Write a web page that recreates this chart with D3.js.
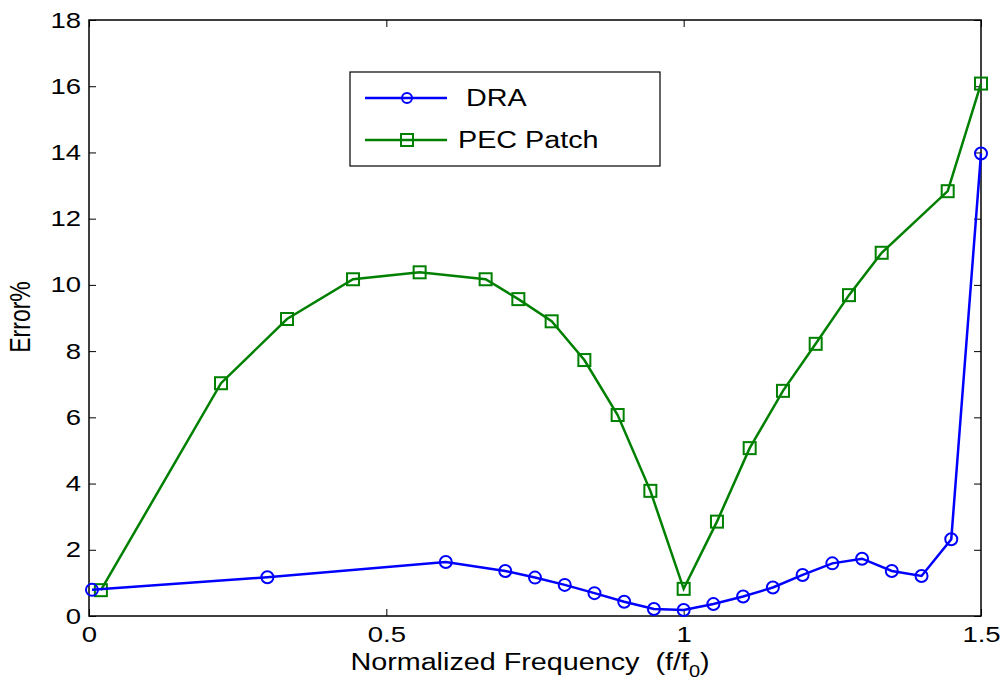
<!DOCTYPE html>
<html>
<head>
<meta charset="utf-8">
<script src="https://cdn.jsdelivr.net/npm/d3@7"></script>
<style>
  body { margin: 0; background: #fff; }
  text { font-family: "Liberation Sans", Arial, sans-serif; white-space: pre; }
</style>
</head>
<body>
<div id="chart"></div>
<script>
const width = 1005;
const height = 683;

// DRA series
const draX = [0.005, 0.3, 0.6, 0.7, 0.75, 0.8, 0.85, 0.9, 0.95, 1.0, 1.05, 1.1, 1.15, 1.2, 1.25, 1.3, 1.35, 1.4, 1.45, 1.5];
const draY = [0.79, 1.17, 1.63, 1.36, 1.16, 0.94, 0.69, 0.43, 0.21, 0.18, 0.36, 0.59, 0.86, 1.24, 1.59, 1.73, 1.36, 1.21, 2.32, 13.97];

// PEC Patch series
const pecX = [0.02, 0.222, 0.333, 0.444, 0.556, 0.667, 0.722, 0.778, 0.833, 0.889, 0.944, 1.0, 1.056, 1.111, 1.167, 1.222, 1.278, 1.333, 1.444, 1.5];
const pecY = [0.78, 7.03, 8.97, 10.17, 10.38, 10.17, 9.57, 8.9, 7.73, 6.07, 3.78, 0.82, 2.85, 5.07, 6.8, 8.22, 9.69, 10.97, 12.83, 16.08];

const xTicks = [0, 0.5, 1, 1.5];
const yTicks = [0, 2, 4, 6, 8, 10, 12, 14, 16, 18];

const margin = {left: 89, top: 20, right: 24, bottom: 67};
const stretch = 1.25; // the picture's text is wider than it is tall

const svg = d3.select("#chart")
    .append("svg")
    .attr("width", width)
    .attr("height", height);

const x = d3.scaleLinear()
    .domain([0, 1.5])
    .range([margin.left, width - margin.right]);

const y = d3.scaleLinear()
    .domain([0, 18])
    .range([height - margin.bottom, margin.top]);

const tickLen = 7;

// axes with inward ticks on all four sides
svg.append("g")
    .attr("transform", `translate(0,${y(0)})`)
    .call(d3.axisBottom(x).tickValues(xTicks).tickSizeInner(-tickLen).tickSizeOuter(0).tickPadding(10)
        .tickFormat(d3.format("")))
    .call(g => g.select(".domain").remove())
    .call(g => g.selectAll("text")
        .attr("font-size", 22).attr("fill", "#000")
        .attr("font-family", "Liberation Sans, Arial, sans-serif")
        .attr("transform", `scale(${stretch},1)`));

svg.append("g")
    .attr("transform", `translate(0,${y(18)})`)
    .call(d3.axisTop(x).tickValues(xTicks).tickSizeInner(-tickLen).tickSizeOuter(0).tickFormat(""))
    .call(g => g.select(".domain").remove());

svg.append("g")
    .attr("transform", `translate(${x(0)},0)`)
    .call(d3.axisLeft(y).tickValues(yTicks).tickSizeInner(-tickLen).tickSizeOuter(0))
    .call(g => g.select(".domain").remove())
    .call(g => g.selectAll("text")
        .attr("font-size", 22).attr("fill", "#000")
        .attr("font-family", "Liberation Sans, Arial, sans-serif")
        .attr("x", -8 / stretch)
        .attr("transform", `scale(${stretch},1)`));

svg.append("g")
    .attr("transform", `translate(${x(1.5)},0)`)
    .call(d3.axisRight(y).tickValues(yTicks).tickSizeInner(-tickLen).tickSizeOuter(0).tickFormat(""))
    .call(g => g.select(".domain").remove());

svg.selectAll(".tick line").attr("stroke", "#000").attr("stroke-width", 1);

// box
svg.append("rect")
    .attr("x", x(0))
    .attr("y", y(18))
    .attr("width", x(1.5) - x(0))
    .attr("height", y(0) - y(18))
    .attr("fill", "none")
    .attr("stroke", "#000")
    .attr("stroke-width", 1.5);

const line = d3.line().x(d => x(d[0])).y(d => y(d[1]));

const dra = draX.map((v, i) => [v, draY[i]]);
const pec = pecX.map((v, i) => [v, pecY[i]]);

// PEC Patch
svg.append("path")
    .datum(pec)
    .attr("d", line)
    .attr("fill", "none")
    .attr("stroke", "#008000")
    .attr("stroke-width", 2.5);

svg.selectAll(".sq")
    .data(pec)
    .enter()
    .append("rect")
    .attr("x", d => x(d[0]) - 6)
    .attr("y", d => y(d[1]) - 6)
    .attr("width", 12)
    .attr("height", 12)
    .attr("fill", "none")
    .attr("stroke", "#008000")
    .attr("stroke-width", 2);

// DRA
svg.append("path")
    .datum(dra)
    .attr("d", line)
    .attr("fill", "none")
    .attr("stroke", "#0000ff")
    .attr("stroke-width", 2.5);

svg.selectAll(".ci")
    .data(dra)
    .enter()
    .append("circle")
    .attr("cx", d => x(d[0]))
    .attr("cy", d => y(d[1]))
    .attr("r", 6)
    .attr("fill", "none")
    .attr("stroke", "#0000ff")
    .attr("stroke-width", 2);

// axis labels
const xl = svg.append("text")
    .attr("transform", `translate(530,670) scale(${stretch},1)`)
    .attr("text-anchor", "middle")
    .attr("font-size", 23)
    .attr("fill", "#000");
xl.append("tspan").text("Normalized Frequency  (f/f");
xl.append("tspan").attr("font-size", 16).attr("dy", 7).text("0");
xl.append("tspan").attr("dy", -7).text(")");

svg.append("text")
    .attr("transform", `translate(30,317) scale(${stretch},1) rotate(-90)`)
    .attr("text-anchor", "middle")
    .attr("font-size", 23)
    .attr("fill", "#000")
    .text("Error%");

// legend
const legend = svg.append("g");
legend.append("rect")
    .attr("x", 350)
    .attr("y", 72)
    .attr("width", 310)
    .attr("height", 94)
    .attr("fill", "#fff")
    .attr("stroke", "#000")
    .attr("stroke-width", 1.2);

const legendItems = [
    {name: "DRA", color: "#0000ff", y: 98, tx: 466, shape: "circle"},
    {name: "PEC Patch", color: "#008000", y: 140, tx: 458, shape: "square"}
];

legendItems.forEach(it => {
    legend.append("line")
        .attr("x1", 365).attr("x2", 447)
        .attr("y1", it.y).attr("y2", it.y)
        .attr("stroke", it.color)
        .attr("stroke-width", 2.5);
    if (it.shape === "circle") {
        legend.append("circle")
            .attr("cx", 407).attr("cy", it.y).attr("r", 5)
            .attr("fill", "none").attr("stroke", it.color).attr("stroke-width", 2);
    } else {
        legend.append("rect")
            .attr("x", 401).attr("y", it.y - 6).attr("width", 12).attr("height", 12)
            .attr("fill", "none").attr("stroke", it.color).attr("stroke-width", 2);
    }
    legend.append("text")
        .attr("transform", `translate(${it.tx},${it.y + 8}) scale(${stretch},1)`)
        .attr("font-size", 23)
        .attr("fill", "#000")
        .text(it.name);
});
</script>
</body>
</html>
